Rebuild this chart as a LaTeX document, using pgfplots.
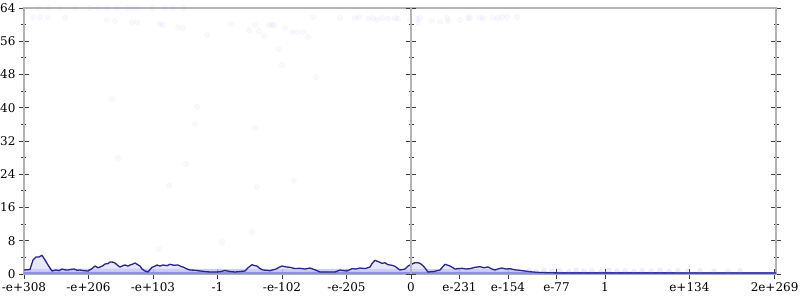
\documentclass[border=0pt]{standalone}
\usepackage{fontspec}
\setmainfont{DejaVu Serif}
\usepackage{pgfplots}
\pgfplotsset{compat=1.18}
\definecolor{navy}{RGB}{38,38,135}
\definecolor{band}{RGB}{190,190,248}
\definecolor{bandstrong}{RGB}{72,72,232}
\definecolor{under}{RGB}{205,205,245}
\definecolor{dotc}{RGB}{120,120,235}
\definecolor{axgray}{RGB}{180,180,180}
\definecolor{tickc}{RGB}{60,60,60}
\begin{document}
\begin{tikzpicture}
\useasboundingbox (-24pt,-26pt) rectangle (776pt,274pt);
\begin{axis}[
  scale only axis, width=752pt, height=266pt,
  at={(0pt,0pt)}, anchor=south west,
  xmin=0, xmax=752, ymin=0, ymax=64,
  ytick={0,8,...,64}, minor y tick num=1,
  xtick={0,64.5,129,193.5,258,322.5,387,435.5,484,532.5,581,665.4,750.6},
  xticklabels={-e+308,-e+206,-e+103,-1,-e-102,-e-205,0,e-231,e-154,e-77,1,e+134,2e+269},
  xtick pos=bottom, ytick pos=both,
  tick align=center,
  major tick length=10pt, minor tick length=5pt,
  tick style={tickc, line width=0.8pt},
  axis line style={axgray, line width=1.6pt},
  tick label style={font=\fontsize{12}{14}\selectfont},
  /pgf/number format/assume math mode=true,
  clip=true,
]
% faint scatter
\addplot[only marks, mark=*, mark size=2.6pt, draw=dotc, fill=dotc, mark options={draw opacity=0.07, fill opacity=0.05}] coordinates {
(14,64)(25,64)(36,64)(51,64)(66,64)(74,64)(83,64)(93,64)(103,64)(109,64)(114,64)(129,64)(141,64)(149,64)(159,64)
(9,61.8)(16,61.8)(24,61.8)(41,61.6)(83,61.1)(91,60.9)(108,60.6)(113,60.6)(136,60.2)(139,59.9)(154,59.4)(159,59.2)(183,57.5)(207,60.2)(225,58.7)(231,59.9)(235,58.5)(240,57.3)(245,59.9)
(248,59.9)(250,59.9)(261,59.2)(268,58.2)(273,58.2)(279,58.2)(284,57.0)(289,61.8)(316,61.6)(331,61.6)(335,61.8)(344,61.4)(349,61.6)(353,61.1)(358,61.6)(364,61.4)(371,61.6)(374,61.4)(386,61.1)(393,61.4)(396,61.6)(394,60.4)(408,60.9)(416,60.6)(423,61.6)(424,60.9)(436,61.1)(444,61.6)(446,61.6)(456,61.6)(459,61.6)(469,61.6)(474,61.6)(478,61.8)(483,61.8)(493,61.8)
(255,54.1)(258,50.3)(292,47.4)(88,42.1)(173,40.2)(171,36.1)(231,35.1)(94,27.9)(162,26.5)(145,21.2)(233,20.9)(228,10.1)(270,22.4)(135,6.0)(198,7.7)
};
% faint dots in the low band, right part
\addplot[only marks, mark=*, mark size=2.4pt, draw=dotc, fill=dotc, mark options={draw opacity=0.12, fill opacity=0.12}] coordinates {
(505,0.8)(512,0.6)(520,0.9)(528,0.7)(536,0.8)(545,0.6)(552,0.9)(560,0.7)(568,0.8)(577,0.6)(585,0.9)(593,0.7)(601,0.8)(610,0.6)(618,0.8)(627,0.7)(636,0.9)(645,0.6)(654,0.8)(664,0.7)(676,0.8)(690,0.7)(704,0.6)(716,0.8)
};
% light band 0..~1.2
\addplot[draw=none, fill=band, fill opacity=0.75] coordinates {
(0,1.25)(100,1.3)(200,1.2)(300,1.25)(400,1.2)(490,1.2)(505,0.6)(520,0.5)(752,0.45)(752,0)(0,0)} -- cycle;
% strong bottom band
\addplot[draw=none, fill=bandstrong, fill opacity=0.85] coordinates {
(0,0.5)(500,0.5)(515,0.45)(752,0.4)(752,0)(0,0)} -- cycle;
% fill under line
\addplot[draw=none, fill=under, fill opacity=0.45] coordinates {
(0,0.96)(6,1.08)(9,3.37)(12,4.09)(15,4.1)(18,4.5)(21,3.37)(24,2.17)(28,0.72)(32,0.96)(38,1.20)(44,0.96)(50,1.20)(56,0.96)(64,0.72)(71,1.92)(76,1.68)(81,2.41)(86,2.89)(91,2.65)(96,1.68)(101,2.17)(106,2.17)(111,2.65)(116,1.92)(121,0.72)(124,0.48)(128,1.61)(133,2.17)(139,2.17)(146,2.33)(154,2.17)(159,1.68)(166,0.96)(176,0.72)(186,0.48)(193,0.48)(201,0.84)(211,0.48)(221,0.72)(228,2.24)(233,1.92)(239,0.96)(246,0.79)(252,1.20)(258,1.92)(266,1.61)(276,1.37)(286,1.44)(296,0.48)(311,0.48)(316,0.96)(323,0.72)(328,1.28)(336,1.44)(346,1.68)(351,3.30)(358,2.57)(364,2.24)(371,1.85)(376,0.96)(381,1.20)(386,2.17)(391,2.72)(396,2.57)(401,1.44)(404,0.48)(416,0.96)(421,2.33)(426,1.92)(431,1.20)(438,1.37)(446,1.28)(456,1.76)(464,1.68)(471,0.96)(478,1.44)(486,1.28)(496,0.89)(501,0.72)(516,0.36)(536,0.24)(752,0.24)(752,0)(0,0)} -- cycle;
% main line
\addplot[navy, line width=1.3pt, line join=round] coordinates {
(0,0.96)(6,1.08)(9,3.37)(12,4.09)(15,4.1)(18,4.5)(21,3.37)(24,2.17)(28,0.72)(32,0.96)(35,0.8)(38,1.20)(41,1.0)(44,0.96)(47,1.1)(50,1.20)(53,0.9)(56,0.96)(60,0.8)(64,0.72)(68,1.3)(71,1.92)(74,1.5)(76,1.68)(79,2.0)(81,2.41)(84,2.5)(86,2.89)(89,2.85)(91,2.65)(94,2.0)(96,1.68)(99,2.0)(101,2.17)(104,1.9)(106,2.17)(109,2.4)(111,2.65)(114,2.2)(116,1.92)(118,1.2)(121,0.72)(124,0.48)(128,1.61)(131,1.9)(133,2.17)(136,1.9)(139,2.17)(143,2.0)(146,2.33)(150,2.1)(154,2.17)(157,1.8)(159,1.68)(163,1.2)(166,0.96)(171,0.9)(176,0.72)(181,0.6)(186,0.48)(193,0.48)(197,0.6)(201,0.84)(206,0.6)(211,0.48)(216,0.6)(221,0.72)(224,1.5)(228,2.24)(231,2.0)(233,1.92)(236,1.3)(239,0.96)(242,0.9)(246,0.79)(249,1.0)(252,1.20)(255,1.6)(258,1.92)(262,1.7)(266,1.61)(271,1.3)(276,1.37)(281,1.2)(286,1.44)(291,1.0)(296,0.48)(303,0.5)(311,0.48)(316,0.96)(320,0.8)(323,0.72)(328,1.28)(332,1.2)(336,1.44)(341,1.3)(346,1.68)(348,2.5)(351,3.30)(355,2.9)(358,2.57)(361,2.7)(364,2.24)(368,2.1)(371,1.85)(374,1.3)(376,0.96)(381,1.20)(384,1.9)(386,2.17)(389,2.5)(391,2.72)(394,2.7)(396,2.57)(399,2.0)(401,1.44)(404,0.48)(410,0.6)(416,0.96)(419,1.8)(421,2.33)(424,2.1)(426,1.92)(429,1.5)(431,1.20)(435,1.3)(438,1.37)(442,1.2)(446,1.28)(451,1.6)(456,1.76)(460,1.5)(464,1.68)(468,1.2)(471,0.96)(475,1.3)(478,1.44)(482,1.2)(486,1.28)(491,1.0)(496,0.89)(501,0.72)(508,0.5)(516,0.36)(536,0.24)(752,0.24)};
\end{axis}
% middle vertical axis with ticks
\begin{axis}[
  scale only axis, width=752pt, height=266pt,
  at={(0pt,0pt)}, anchor=south west,
  xmin=-387, xmax=365, ymin=0, ymax=64,
  axis x line=none, axis y line=middle,
  ytick={0,8,...,64}, minor y tick num=1, yticklabels={},
  tick align=center,
  major tick length=10pt, minor tick length=5pt,
  tick style={tickc, line width=0.8pt},
  axis line style={axgray, line width=1.6pt, -},
]
\end{axis}
\end{tikzpicture}
\end{document}
